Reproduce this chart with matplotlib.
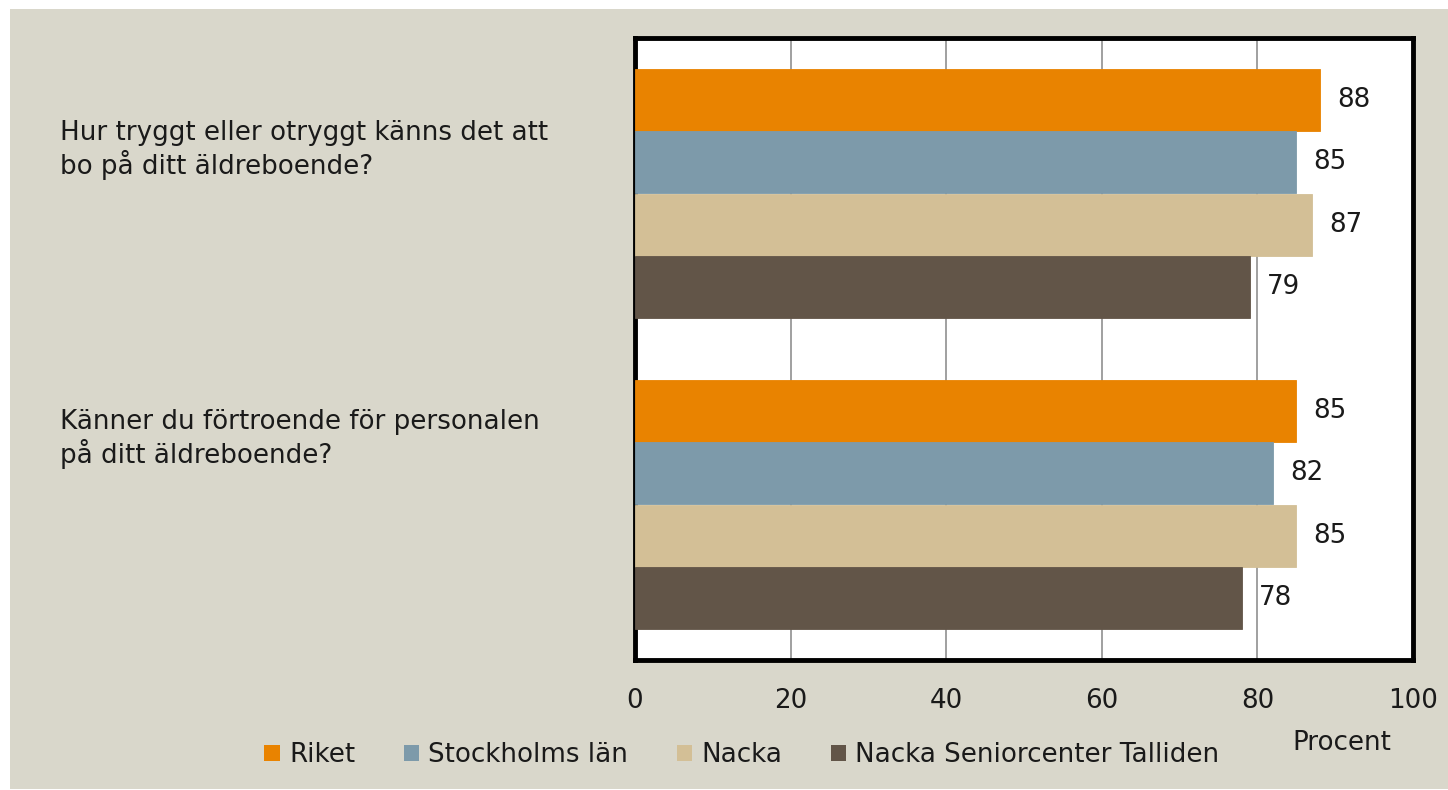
import matplotlib.pyplot as plt
from matplotlib.patches import Rectangle, Patch

# data
questions = ["Hur tryggt eller otryggt känns det att\nbo på ditt äldreboende?",
             "Känner du förtroende för personalen\npå ditt äldreboende?"]
series = ["Riket", "Stockholms län", "Nacka", "Nacka Seniorcenter Talliden"]
values = [[88, 85],
          [85, 82],
          [87, 85],
          [79, 78]]
colors = ["#E98300", "#7D9AAA", "#D3BF96", "#625548"]
bg = "#D9D7CB"

plt.rcParams['font.family'] = ['DejaVu Sans']
fs = 18.8

fig = plt.figure(figsize=(14.48, 7.90), dpi=100)
fig.patch.set_facecolor("white")
fig.patches.append(Rectangle((10 / 1448, 1 - 789 / 790), 1438 / 1448, 780 / 790,
                             transform=fig.transFigure, facecolor=bg, edgecolor="none", zorder=-10))

W, H = 1448, 790
ax = fig.add_axes([635 / W, 1 - 660 / H, (1413 - 635) / W, (660 - 38) / H])
ax.set_facecolor("white")

bh = 0.2
for j, (name, vals) in enumerate(zip(series, values)):
    for i, v in enumerate(vals):
        y = i - 0.3 + j * bh
        ax.barh(y, v, height=bh, color=colors[j], edgecolor=colors[j], linewidth=0.6, zorder=3)
        ax.text(v + 2.2, y, str(v), va="center", ha="left", fontsize=fs, color="#1a1a1a")

ax.set_xlim(0, 100)
ax.set_ylim(1.5, -0.5)
ax.set_xticks([0, 20, 40, 60, 80, 100])
ax.tick_params(axis="x", length=0, labelsize=fs, pad=20, colors="#1a1a1a")
ax.set_yticks([])
ax.grid(axis="x", color="#999999", linewidth=1.3, zorder=1)
for s in ax.spines.values():
    s.set_linewidth(3.5)
    s.set_color("black")

label_y = [150, 439]
for q, ly in zip(questions, label_y):
    fig.text(60 / W, 1 - ly / H, q, ha="left", va="center", fontsize=fs,
             color="#1a1a1a", linespacing=1.15)

fig.text(1342 / W, 1 - 743 / H, "Procent", ha="center", va="center", fontsize=fs, color="#1a1a1a")

handles = [Patch(facecolor=c, label=s) for c, s in zip(colors, series)]
fig.legend(handles=handles, loc="center", bbox_to_anchor=(742 / W, 1 - 755 / H), ncol=4,
           frameon=False, fontsize=fs, handlelength=0.6, handleheight=0.6,
           handletextpad=0.35, columnspacing=1.85, labelcolor="#1a1a1a")

fig.savefig("out.png", dpi=100)
